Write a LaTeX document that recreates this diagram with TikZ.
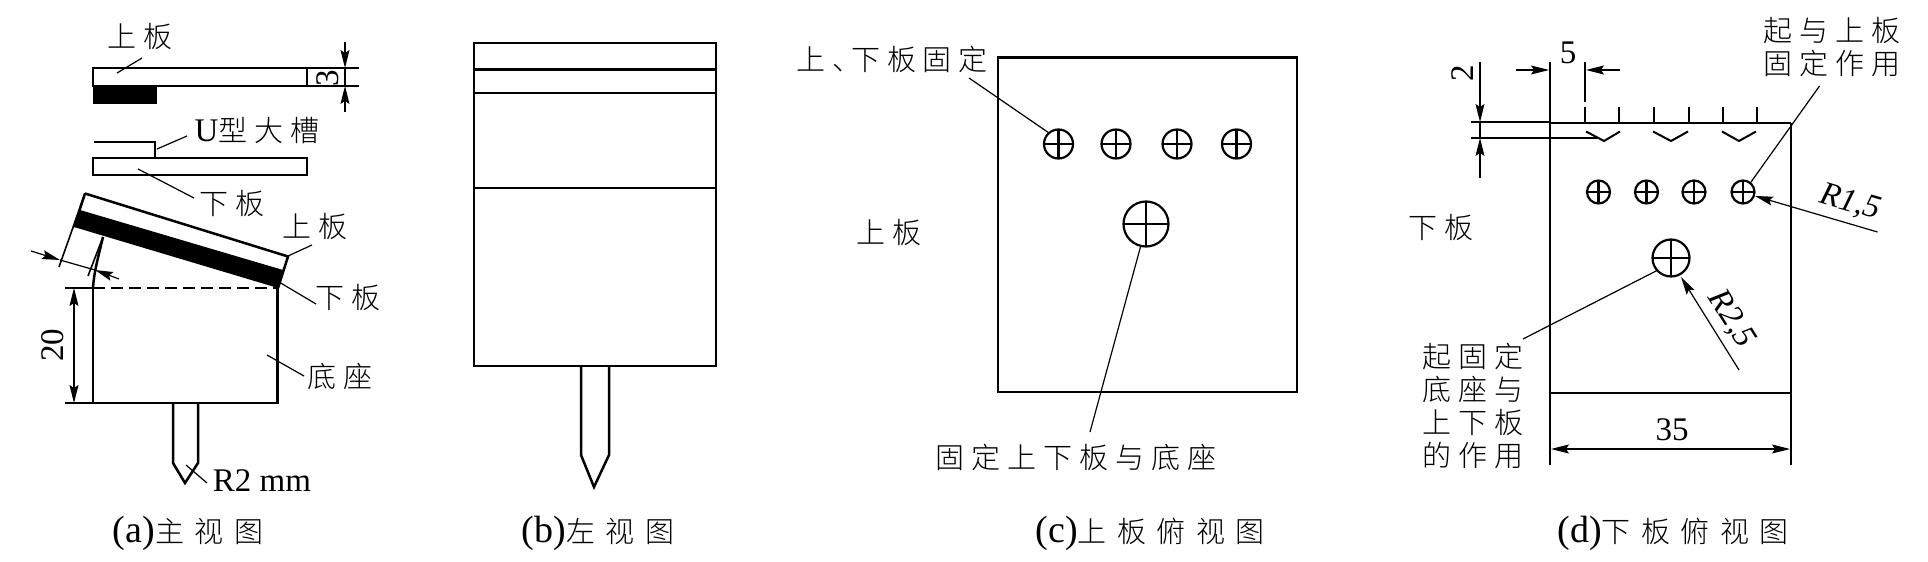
\documentclass[tikz,border=0pt]{standalone}
\usepackage{fontspec}
\setmainfont{Liberation Serif}
\newfontfamily\cjk[LetterSpace=24,UprightFont=* Light]{Noto Sans CJK SC}
\newfontfamily\cjkwide[LetterSpace=36,UprightFont=* Light]{Noto Sans CJK SC}
\usetikzlibrary{arrows.meta}
\newcommand{\txtsize}{\fontsize{16.5}{16.5}\selectfont}
\newcommand{\capsize}{\fontsize{19}{19}\selectfont}
\newcommand{\cjksize}{\fontsize{14.5}{16.5}\selectfont}
\begin{document}
\begin{tikzpicture}
        [x=0.5pt,y=-0.5pt,
        every node/.style={inner sep=0,align=center,font=\txtsize},
        part/.style={line width=1.25pt,black},
        thin line/.style={line width=0.6pt,black},
        dim/.style={line width=0.6pt,black,-{Stealth[length=9pt,width=4.5pt,inset=1.5pt]}},
        hole/.style={draw,circle,line width=1.1pt,fill=white,path picture={
          \draw (path picture bounding box.north) -- (path picture bounding box.south);
          \draw (path picture bounding box.west) -- (path picture bounding box.east);}},
        small hole/.style={hole,minimum size=11.5pt},
        big hole/.style={hole,minimum size=18.5pt}]

        \useasboundingbox (0,0) rectangle (1928,562);

        % (a) front view
        \fill (93,86) rectangle (157,104);
        \draw[part] (93,68) rectangle (307,86);
        \draw[part] (94,142) -- (155,142) -- (155,158);
        \draw[part] (93,158) rectangle (307,175);
        \fill (80,210) -- (283,270) -- (278,288) -- (74,227) -- cycle;
        \draw[part] (85,193.5) -- (288,256.5) -- (278,288);
        \draw[part] (85,193.5) -- (74,227);
        \draw[part] (93,288) -- (93,403) -- (277.5,403) -- (277.5,288);
        \draw[part,dash pattern=on 6pt off 3pt] (93,288) -- (277.5,288);
        \draw[part] (173,403) -- (173,463) -- (185,483) -- (198,463) -- (198,403);

        \node[font=\cjksize] (upa) at (140,36) {\cjk 上板};
        \node (slota) at (257,131) {U{\cjksize\cjk 型大槽}};
        \node[font=\cjksize] (lowa) at (232,203) {\cjk 下板};
        \node[font=\cjksize] (upb) at (315,226) {\cjk 上板};
        \node[font=\cjksize] (lowb) at (348,297) {\cjk 下板};
        \node[font=\cjksize] (basea) at (340,376) {\cjk 底座};
        \node (radpin) at (262,481) {R2 mm};
        \node[font=\capsize] (capa) at (188,533) {(a){\cjksize\cjkwide 主视图}};
        \node[rotate=90] (twenty) at (53,345) {20};
        \node[rotate=90] (three) at (328,78) {3};

        \coordinate (upaA) at (117,73);
        \coordinate (upaB) at (142,58);
        \coordinate (slotA) at (157,149);
        \coordinate (slotB) at (187,136);
        \coordinate (lowaA) at (138,169);
        \coordinate (lowaB) at (194,198);
        \coordinate (upbA) at (288,256);
        \coordinate (upbB) at (312,245);
        \coordinate (lowbA) at (279,282);
        \coordinate (lowbB) at (316,304);
        \coordinate (baseA) at (267,355);
        \coordinate (baseB) at (304,376);
        \coordinate (pinA) at (186,465);
        \coordinate (pinB) at (207,483);

        \draw[thin line] (upaA) -- (upaB);
        \draw[thin line] (slotA) -- (slotB);
        \draw[thin line] (lowaA) -- (lowaB);
        \draw[thin line] (upbA) -- (upbB);
        \draw[thin line] (lowbA) -- (lowbB);
        \draw[thin line] (baseA) -- (baseB);
        \draw[thin line] (pinA) -- (pinB);

        % dimensions of (a)
        \draw[thin line] (307,68) -- (359,68);
        \draw[thin line] (307,86) -- (359,86);
        \draw[dim] (345,42) -- (345,68);
        \draw[dim] (345,112) -- (345,86);
        \draw[thin line] (345,68) -- (345,86);
        \draw[thin line] (65,288) -- (93,288);
        \draw[thin line] (65,403) -- (93,403);
        \draw[dim] (74,345) -- (74,288);
        \draw[dim] (74,345) -- (74,403);
        \draw[thin line,line width=0.8pt] (85,193.5) -- (59,267);
        \draw[thin line,line width=0.8pt] (103,237) -- (88,276);
        \draw[part] (103,237) .. controls (98,258) and (94,272) .. (93,288);
        \draw[dim] (31,251) -- (60,260);
        \draw[dim] (119,279) -- (95,270);
        \draw[thin line] (60,260) -- (95,270);

        % (b) side view
        \draw[part] (474,43) rectangle (716,366);
        \draw[part] (474,69.5) -- (716,69.5);
        \draw[part] (474,93) -- (716,93);
        \draw[part] (474,188) -- (716,188);
        \draw[part] (581,366) -- (581,455) -- (594,487) -- (609,455) -- (609,366);
        \node[font=\capsize] (capb) at (598,533) {(b){\cjksize\cjkwide 左视图}};

        % (c) upper plate
        \draw[part] (998,57.5) rectangle (1297,392);
        \node[font=\cjksize] (lblfix) at (892,59) {\cjk 上、\kern-5pt 下板固定};
        \node[font=\cjksize] (lblup) at (889,232) {\cjk 上板};
        \node[font=\cjksize] (lblbase) at (1076,457) {\cjk 固定上下板与底座};
        \node[font=\capsize] (capc) at (1150,533) {(c){\cjksize\cjkwide 上板俯视图}};

        \coordinate (fixA) at (969,78);
        \coordinate (holeA) at (1049,133);
        \coordinate (bigA) at (1141,245);
        \coordinate (bigB) at (1090,432);
        \draw[thin line] (fixA) -- (holeA);
        \draw[thin line] (bigA) -- (bigB);

        \node[hole,minimum size=14.5pt] (h1) at (1058.5,144) {};
        \node[hole,minimum size=14.5pt] (h2) at (1116,144) {};
        \node[hole,minimum size=14.5pt] (h3) at (1177,144) {};
        \node[hole,minimum size=14.5pt] (h4) at (1236.5,144) {};
        \node[hole,minimum size=22.5pt] (h5) at (1146,224) {};

        % (d) lower plate
        \draw[part] (1550,123) -- (1791,123);
        \draw[part] (1550,393) -- (1791,393);
        \draw[thin line,line width=0.8pt] (1550,62) -- (1550,465);
        \draw[thin line,line width=0.8pt] (1791,123) -- (1791,465);
        \draw[thin line] (1585,62) -- (1585,102);
        \draw[thin line] (1585,107) -- (1585,123);
        \draw[thin line] (1619,107) -- (1619,123);
        \draw[thin line] (1654,107) -- (1654,123);
        \draw[thin line] (1689,107) -- (1689,123);
        \draw[thin line] (1723,107) -- (1723,123);
        \draw[thin line] (1757,107) -- (1757,123);
        \draw[thin line,line width=1pt] (1586,131.5) -- (1604,141) -- (1620,131.5);
        \draw[thin line,line width=1pt] (1653,131.5) -- (1671,141) -- (1688,131.5);
        \draw[thin line,line width=1pt] (1722,131.5) -- (1739,141) -- (1756,131.5);

        \node[small hole] (k1) at (1598.5,192) {};
        \node[small hole] (k2) at (1646.5,192) {};
        \node[small hole] (k3) at (1694,192) {};
        \node[small hole] (k4) at (1743,192) {};
        \node[big hole] (k5) at (1671,258) {};

        \node[font=\cjksize] (lbllow) at (1441,227) {\cjk 下板};
        \node[font=\cjksize] (lbltop) at (1832,47) {\cjk 起与上板\\\cjk 固定作用};
        \node[font=\cjksize] (lblside) at (1473,406) {\cjk 起固定\\\cjk 底座与\\\cjk 上下板\\\cjk 的作用};
        \node[font=\capsize] (capd) at (1673,533) {(d){\cjksize\cjkwide 下板俯视图}};
        \node (five) at (1568,53) {5};
        \node[rotate=90] (two) at (1463,73) {2};
        \node (thirtyfive) at (1672,430) {35};
        \node[rotate=-16] (r15) at (1850,203) {\textit{R1,5}};
        \node[rotate=-58] (r25) at (1731,319) {\textit{R2,5}};

        \coordinate (topA) at (1819.5,86);
        \coordinate (topB) at (1751,182);
        \coordinate (sideA) at (1658,270);
        \coordinate (sideB) at (1523,339);
        \coordinate (rsmall) at (1877.5,232);
        \coordinate (rsmallA) at (1755,196);
        \coordinate (rbig) at (1739,370);
        \coordinate (rbigA) at (1681,277);

        \draw[thin line] (topA) -- (topB);
        \draw[thin line] (sideA) -- (sideB);
        \draw[dim] (rsmall) -- (rsmallA);
        \draw[dim] (rbig) -- (rbigA);

        % dimensions of (d)
        \draw[dim] (1516,70) -- (1549,70);
        \draw[dim] (1620,70) -- (1586,70);
        \draw[dim] (1480,62) -- (1480,122);
        \draw[dim] (1480,178) -- (1480,138);
        \draw[thin line] (1480,122) -- (1480,138);
        \draw[thin line] (1471,122) -- (1550,122);
        \draw[thin line,line width=1pt] (1471,138) -- (1597,138);
        \draw[dim] (1670,449) -- (1551,449);
        \draw[dim] (1670,449) -- (1790,449);
      \end{tikzpicture}
\end{document}
